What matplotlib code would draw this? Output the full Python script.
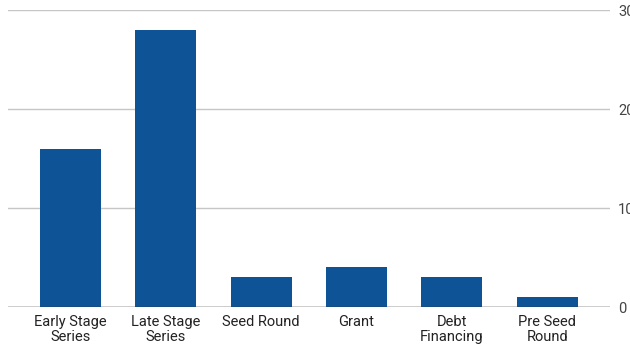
import numpy as np
import matplotlib.pyplot as plt

plt.rcParams['font.family'] = ['Roboto', 'DejaVu Sans']

categories = ['Early Stage\nSeries', 'Late Stage\nSeries', 'Seed Round', 'Grant',
              'Debt\nFinancing', 'Pre Seed\nRound']
values = [16, 28, 3, 4, 3, 1]
y_ticks = [0, 10, 20, 30]

fig = plt.figure(figsize=(6.3, 3.45), dpi=100)
ax = fig.add_axes([0.0127, 0.110, 0.955, 0.861])

x = np.arange(len(categories))
ax.bar(x, values, width=0.64, color='#0e5396', zorder=3)

ax.set_xlim(-0.655, 5.655)
ax.set_ylim(0, 30)
ax.set_yticks(y_ticks)
ax.yaxis.tick_right()
ax.grid(axis='y', color='#c6c6c6', linewidth=1, zorder=0)
ax.axhline(0, color='#333333', linewidth=1, zorder=4)

ax.set_xticks(x)
ax.set_xticklabels(categories, fontsize=10.5, color='#222222', linespacing=1.05)
ax.tick_params(axis='x', length=0, pad=6)
ax.tick_params(axis='y', length=0, pad=6, labelsize=10.5, labelcolor='#444444')
for s in ax.spines.values():
    s.set_visible(False)

fig.savefig('out.png', dpi=100)
